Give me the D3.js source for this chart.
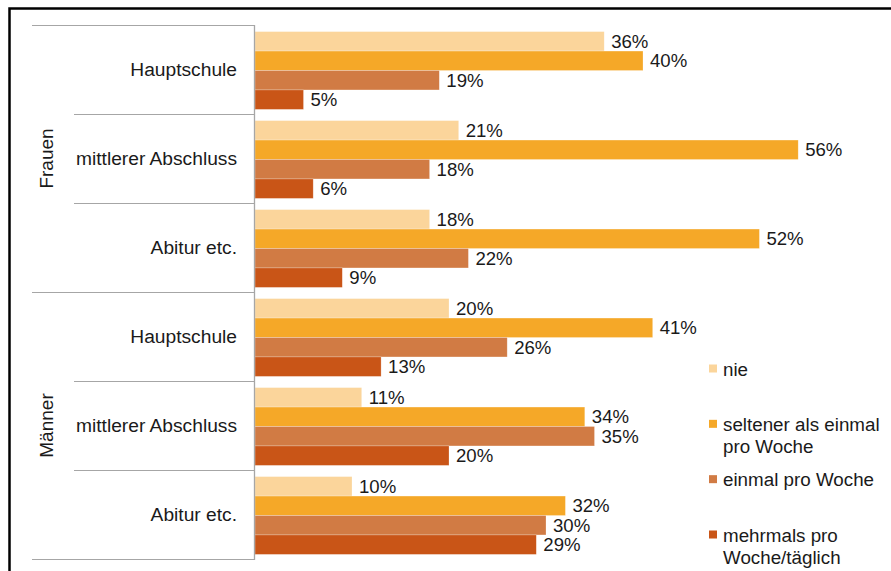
<!DOCTYPE html>
<html>
<head>
<meta charset="utf-8">
<script src="https://cdn.jsdelivr.net/npm/d3@7"></script>
<style>
  body { margin: 0; background: #fff; }
  svg { display: block; font-family: "Liberation Sans", Arial, sans-serif; }
</style>
</head>
<body>
<script>
// data
const groups = ['Frauen', 'Männer'];
const schools = ['Hauptschule', 'mittlerer Abschluss', 'Abitur etc.'];
const series = ['nie', 'seltener als einmal pro Woche', 'einmal pro Woche', 'mehrmals pro Woche/täglich'];
const legendLines = [['nie'], ['seltener als einmal', 'pro Woche'], ['einmal pro Woche'], ['mehrmals pro', 'Woche/täglich']];
const colors = ['#fbd59b', '#f5a828', '#d17b44', '#c95517'];

const nie       = [36, 21, 18, 20, 11, 10];
const seltener  = [40, 56, 52, 41, 34, 32];
const einmal    = [19, 18, 22, 26, 35, 30];
const mehrmals  = [5, 6, 9, 13, 20, 29];
const values = [nie, seltener, einmal, mehrmals];

const [w, h] = [891, 571];

const rows = [];
groups.forEach((g, gi) => schools.forEach((s, si) => rows.push({ key: g + '|' + s, group: g, school: s, i: gi * 3 + si })));

const svg = d3.select('body').append('svg')
  .attr('width', w)
  .attr('height', h);

// outer frame (cut off on the right and bottom)
svg.append('rect')
  .attr('x', 9.5).attr('y', 8.5)
  .attr('width', 1000).attr('height', 1000)
  .attr('fill', 'none')
  .attr('stroke', '#000')
  .attr('stroke-width', 2.5);

// scales
const yScale = d3.scaleBand()
  .domain(rows.map(d => d.key))
  .range([25, 559]);

const edge = d3.scaleLinear().domain([0, rows.length]).range([25, 559]);

const inner = d3.scaleBand()
  .domain(series)
  .range([6.6, 84.4]);

const xScale = d3.scaleLinear()
  .domain([0, 60])
  .range([255, 837]);

// separators between categories
svg.selectAll('.sep')
  .data(d3.range(rows.length + 1))
  .enter()
  .append('line')
  .attr('class', 'sep')
  .attr('x1', i => i % 3 === 0 ? 32 : 74)
  .attr('x2', 254)
  .attr('y1', i => edge(i) + 0.5)
  .attr('y2', i => edge(i) + 0.5)
  .attr('stroke', '#a6a6a6')
  .attr('stroke-width', 1);

// bars
const bars = [];
rows.forEach(r => series.forEach((s, k) => bars.push({ row: r, s, k, v: values[k][r.i] })));

svg.selectAll('.bar')
  .data(bars)
  .enter()
  .append('rect')
  .attr('class', 'bar')
  .attr('x', xScale(0))
  .attr('y', d => yScale(d.row.key) + inner(d.s))
  .attr('width', d => xScale(d.v) - xScale(0))
  .attr('height', inner.bandwidth())
  .attr('fill', d => colors[d.k])
  .attr('stroke', '#fff')
  .attr('stroke-opacity', 0.4)
  .attr('stroke-width', 0.6);

svg.selectAll('.val')
  .data(bars)
  .enter()
  .append('text')
  .attr('class', 'val')
  .attr('x', d => xScale(d.v) + 7)
  .attr('y', d => yScale(d.row.key) + inner(d.s) + inner.bandwidth() / 2)
  .attr('dy', '0.36em')
  .attr('font-size', '18.6px')
  .attr('fill', '#1a1a1a')
  .text(d => d.v + '%');

// category axis line
svg.append('line')
  .attr('x1', 254.5).attr('x2', 254.5)
  .attr('y1', edge(0)).attr('y2', edge(rows.length) + 1)
  .attr('stroke', '#a6a6a6')
  .attr('stroke-width', 1.3);

// category labels
svg.selectAll('.cat')
  .data(rows)
  .enter()
  .append('text')
  .attr('class', 'cat')
  .attr('x', 237)
  .attr('y', d => yScale(d.key) + yScale.bandwidth() / 2)
  .attr('dy', '0.36em')
  .attr('text-anchor', 'end')
  .attr('font-size', '19.2px')
  .attr('fill', '#1a1a1a')
  .text(d => d.school);

// group labels, rotated
svg.selectAll('.grp')
  .data(groups)
  .enter()
  .append('text')
  .attr('class', 'grp')
  .attr('transform', (g, gi) => `translate(46, ${(edge(gi * 3) + edge(gi * 3 + 3)) / 2}) rotate(-90)`)
  .attr('dy', '0.36em')
  .attr('text-anchor', 'middle')
  .attr('font-size', '19px')
  .attr('fill', '#1a1a1a')
  .text(g => g);

// legend
const legendY = d3.scaleLinear().domain([0, 3]).range([369, 535]);

const legend = svg.selectAll('.leg')
  .data(series)
  .enter()
  .append('g')
  .attr('class', 'leg')
  .attr('transform', (d, i) => `translate(709, ${legendY(i)})`);

legend.append('rect')
  .attr('x', 0).attr('y', -4.5)
  .attr('width', 8).attr('height', 8)
  .attr('fill', (d, i) => colors[i]);

legend.append('text')
  .attr('x', 14)
  .attr('y', 0)
  .attr('font-size', '18.8px')
  .attr('fill', '#1a1a1a')
  .selectAll('tspan')
  .data((d, i) => legendLines[i])
  .enter()
  .append('tspan')
  .attr('x', 14)
  .attr('dy', (d, j) => j === 0 ? '0.36em' : '1.17em')
  .text(d => d);
</script>
</body>
</html>
